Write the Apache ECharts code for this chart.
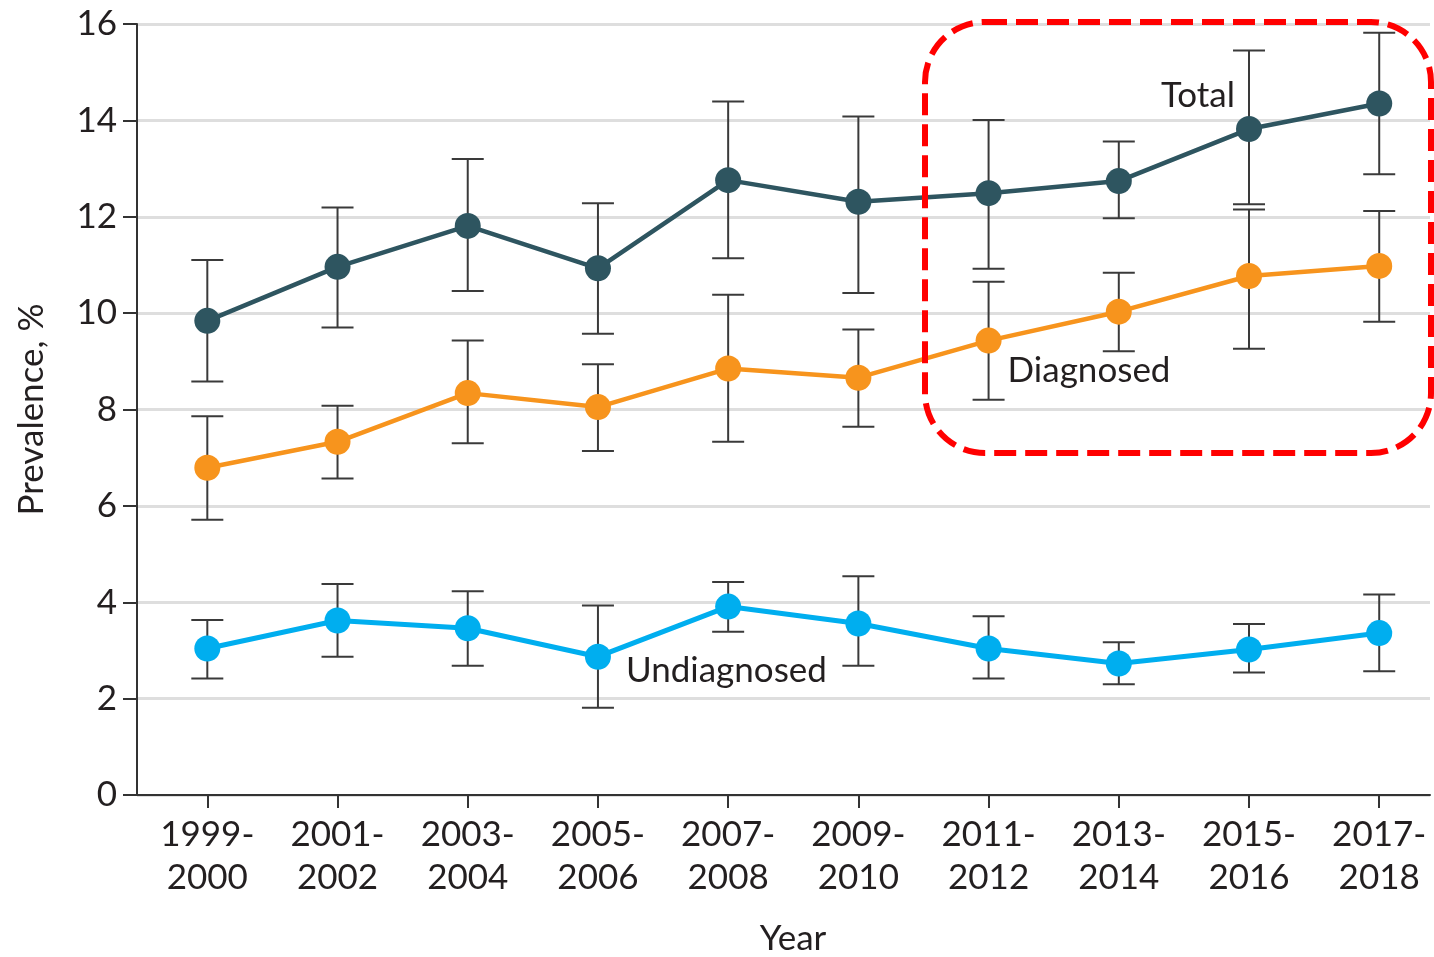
<!DOCTYPE html>
<html>
<head>
<meta charset="utf-8">
<title>Prevalence by survey cycle</title>
<script src="https://cdn.jsdelivr.net/npm/echarts@6/dist/echarts.min.js"></script>
<style>
  html, body { margin: 0; padding: 0; background: #ffffff; }
  #chart { width: 1434px; height: 957px; }
</style>
</head>
<body>
<div id="chart"></div>
<script>
// Survey cycles along the x axis
const categories = ['1999-\n2000', '2001-\n2002', '2003-\n2004', '2005-\n2006', '2007-\n2008',
                    '2009-\n2010', '2011-\n2012', '2013-\n2014', '2015-\n2016', '2017-\n2018'];

// Prevalence, % (point estimate, lower and upper bound of the interval)
const totalValues = [9.84, 10.96, 11.81, 10.93, 12.76, 12.31, 12.49, 12.74, 13.82, 14.35];
const totalLower  = [8.58,  9.70, 10.46,  9.57, 11.14, 10.42, 10.92, 11.97, 12.26, 12.88];
const totalUpper  = [11.10, 12.19, 13.20, 12.28, 14.39, 14.08, 14.01, 13.56, 15.45, 15.82];

const diagnosedValues = [6.79, 7.33, 8.34, 8.05, 8.85, 8.66, 9.43, 10.03, 10.77, 10.98];
const diagnosedLower  = [5.71, 6.57, 7.30, 7.14, 7.33, 7.64, 8.20,  9.21,  9.26,  9.82];
const diagnosedUpper  = [7.86, 8.08, 9.43, 8.94, 10.38, 9.66, 10.65, 10.84, 12.15, 12.12];

const undiagnosedValues = [3.04, 3.62, 3.46, 2.87, 3.91, 3.56, 3.04, 2.73, 3.02, 3.36];
const undiagnosedLower  = [2.42, 2.87, 2.68, 1.81, 3.39, 2.68, 2.42, 2.30, 2.54, 2.57];
const undiagnosedUpper  = [3.63, 4.38, 4.23, 3.93, 4.42, 4.54, 3.71, 3.17, 3.55, 4.16];

const yTicks = [0, 2, 4, 6, 8, 10, 12, 14, 16];

const FONT = 'Lato';
const TEXT = '#231f20';
const indices = categories.map((_, i) => i);

function points(values) {
  return values.map((v, i) => [i, v]);
}
function intervals(lower, upper) {
  return lower.map((lo, i) => [i, lo, upper[i]]);
}

// Vertical whisker with a cap at each end
function renderErrorBar(params, api) {
  const x = api.value(0);
  const lo = api.coord([x, api.value(1)]);
  const hi = api.coord([x, api.value(2)]);
  const half = 16;
  const style = { stroke: '#3a3a3a', lineWidth: 2 };
  return {
    type: 'group',
    children: [
      { type: 'line', shape: { x1: lo[0], y1: lo[1], x2: hi[0], y2: hi[1] }, style },
      { type: 'line', shape: { x1: lo[0] - half, y1: lo[1], x2: lo[0] + half, y2: lo[1] }, style },
      { type: 'line', shape: { x1: hi[0] - half, y1: hi[1], x2: hi[0] + half, y2: hi[1] }, style }
    ]
  };
}

function errorSeries(lower, upper) {
  return {
    type: 'custom',
    renderItem: renderErrorBar,
    data: intervals(lower, upper),
    z: 1,
    silent: true
  };
}

function lineSeries(name, values, color, width, labelIndex, labelOpts) {
  const data = points(values).map((p, i) => {
    if (i !== labelIndex) return p;
    return {
      value: p,
      label: Object.assign({
        show: true,
        formatter: name,
        fontFamily: FONT,
        fontSize: 35,
        color: TEXT
      }, labelOpts)
    };
  });
  return {
    name,
    type: 'line',
    data,
    symbol: 'circle',
    symbolSize: 26,
    itemStyle: { color },
    lineStyle: { color, width },
    z: 3,
    animation: false
  };
}

const chart = echarts.init(document.getElementById('chart'), null, { renderer: 'canvas' });

chart.setOption({
  backgroundColor: '#ffffff',
  animation: false,
  grid: { left: 137, right: 4, top: 24, bottom: 162, containLabel: false, outerBoundsMode: 'none' },
  xAxis: {
    type: 'value',
    min: -0.54,
    max: 9.39,
    name: 'Year',
    nameLocation: 'middle',
    nameGap: 126,
    nameTextStyle: { fontFamily: FONT, fontSize: 35, color: TEXT, padding: [0, 0, 0, 19] },
    axisLine: { show: true, onZero: false, lineStyle: { color: '#333333', width: 2 } },
    axisTick: { show: true, customValues: indices, length: 13, lineStyle: { color: '#333333', width: 2 } },
    axisLabel: {
      customValues: indices,
      formatter: (v) => categories[Math.round(v)],
      fontFamily: FONT,
      fontSize: 35,
      lineHeight: 43,
      color: TEXT,
      margin: 18
    },
    splitLine: { show: false }
  },
  yAxis: {
    type: 'value',
    min: 0,
    max: 16,
    interval: 2,
    name: 'Prevalence, %',
    nameLocation: 'middle',
    nameGap: 88,
    nameTextStyle: { fontFamily: FONT, fontSize: 35, color: TEXT },
    axisLine: { show: true, onZero: false, lineStyle: { color: '#333333', width: 2 } },
    axisTick: { show: true, length: 14, lineStyle: { color: '#333333', width: 2 } },
    axisLabel: {
      formatter: (v) => (yTicks.includes(v) ? String(v) : ''),
      fontFamily: FONT,
      fontSize: 35,
      color: TEXT,
      margin: 20
    },
    splitLine: { show: true, lineStyle: { color: '#dedede', width: 3 } }
  },
  series: [
    errorSeries(totalLower, totalUpper),
    errorSeries(diagnosedLower, diagnosedUpper),
    errorSeries(undiagnosedLower, undiagnosedUpper),
    lineSeries('Total', totalValues, '#2e5560', 4.5, 8,
      { position: 'left', distance: 1, offset: [0, -33] }),
    lineSeries('Diagnosed', diagnosedValues, '#f7941d', 4.5, 6,
      { position: 'right', distance: 6, offset: [0, 30] }),
    lineSeries('Undiagnosed', undiagnosedValues, '#00aeef', 5, 3,
      { position: 'right', distance: 15, offset: [0, 14] })
  ],
  graphic: [
    {
      type: 'rect',
      shape: { x: 925, y: 22, width: 506, height: 431, r: 60 },
      style: { fill: 'none', stroke: '#ff0000', lineWidth: 6, lineDash: [22, 9] },
      z: 10
    }
  ]
});
</script>
</body>
</html>
